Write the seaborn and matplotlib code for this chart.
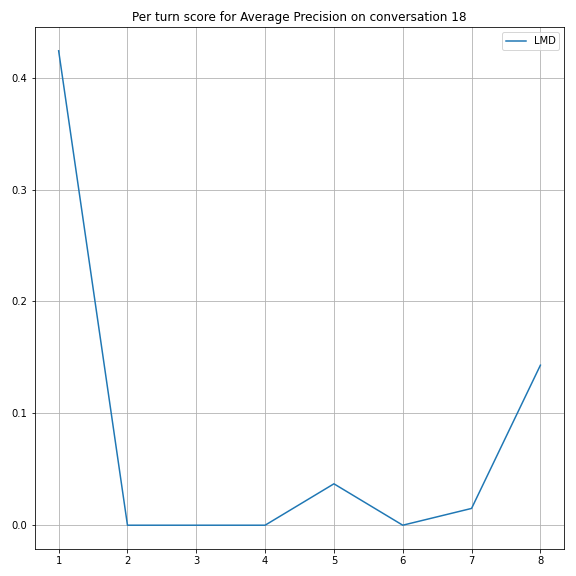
import matplotlib
matplotlib.use("Agg")
import matplotlib.pyplot as plt
import seaborn as sns
import pandas as pd

# per turn scores
turns = [1, 2, 3, 4, 5, 6, 7, 8]
lmd_scores = [0.424, 0.0, 0.0, 0.0, 0.037, 0.0, 0.015, 0.143]

df = pd.DataFrame({"turn": turns, "LMD": lmd_scores})

fig, ax = plt.subplots(figsize=(8, 8), dpi=72)
sns.lineplot(data=df, x="turn", y="LMD", label="LMD", color="#1f77b4", ax=ax)
ax.set_title("Per turn score for Average Precision on conversation 18")
ax.set_xlabel("")
ax.set_ylabel("")
ax.grid(True)
ax.legend(loc="upper right")
plt.subplots_adjust(left=0.06, right=0.98, top=0.953, bottom=0.047)
plt.savefig("out.png", dpi=72, facecolor="white")
